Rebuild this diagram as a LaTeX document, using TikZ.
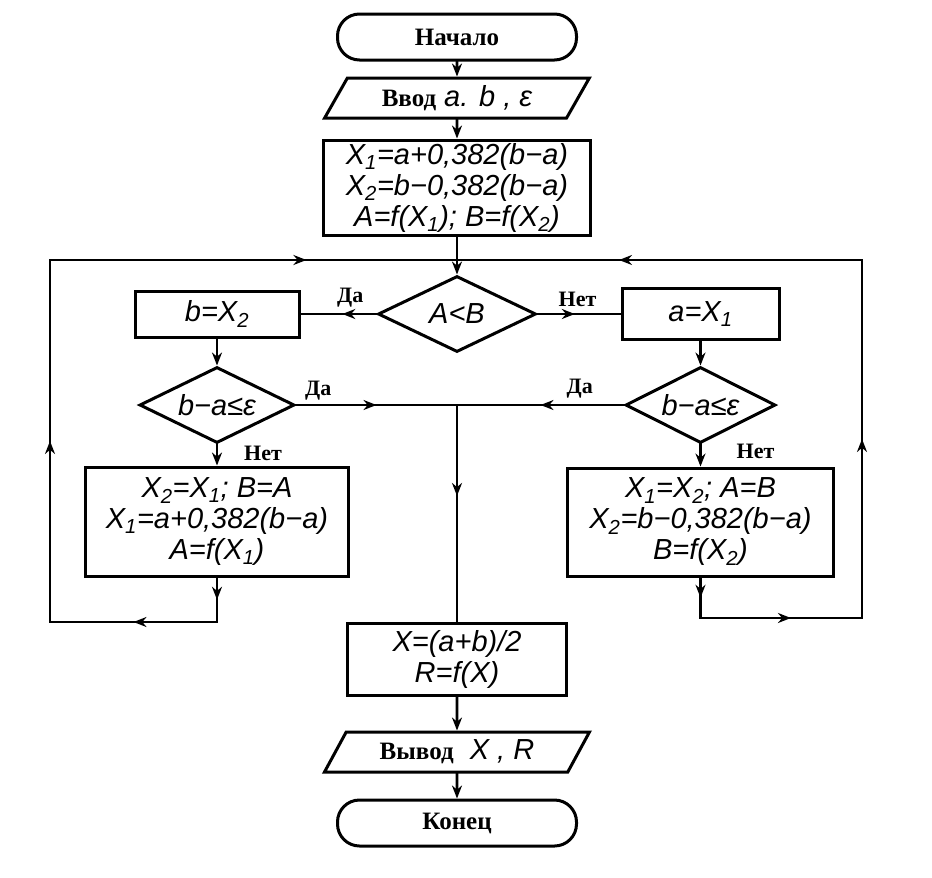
\documentclass[tikz,border=0pt]{standalone}
\usepackage{fontspec}
\setmainfont{Liberation Serif}
\newfontfamily\formfont{Liberation Sans}
\usepackage{tikz}
\usetikzlibrary{shapes.geometric, arrows.meta, positioning, decorations.markings}
\newcommand\labtxt{\normalfont\bfseries\fontsize{25}{28}\selectfont}
\newcommand\frmtxt{\formfont\itshape\fontsize{29}{31}\selectfont}
\newcommand\ix[1]{\textsubscript{#1}}
\tikzset{
  term/.style  ={rectangle, rounded corners=22pt, draw, line width=3pt,
                 minimum width=239pt, minimum height=46pt, font=\labtxt},
  io/.style    ={trapezium, trapezium left angle=63, trapezium right angle=117,
                 trapezium stretches=true, draw, line width=3pt,
                 minimum width=265pt, minimum height=40pt, font=\frmtxt},
  proc/.style  ={rectangle, draw, line width=3pt, align=center,
                 inner sep=1pt, font=\frmtxt},
  dec/.style   ={diamond, aspect=2, draw, line width=3pt, inner sep=0pt,
                 minimum width=158pt, minimum height=76pt, font=\frmtxt},
  lbl/.style   ={font=\normalfont\bfseries\fontsize{22}{24}\selectfont, inner sep=1pt},
  flow/.style  ={line width=2.6pt, line cap=rect},
  flowarr/.style={flow, -{Stealth[length=13pt, width=10pt]}},
  midarr/.style={flow, postaction={decorate}, decoration={markings,
                 mark=at position #1 with {\arrow{Stealth[length=13pt, width=10pt]}}}},
  midarr/.default=0.5,
}
\begin{document}
\begin{tikzpicture}[x=1pt, y=1pt]
  \useasboundingbox (0,0) rectangle (932,-878);

  % main column
  \node[term] (start) at (457,-37) {Начало};
  \node[io, below=15pt of start] (inp) {{\labtxt Ввод} a. b , ε};
  \node[proc, below=19pt of inp, minimum width=267pt, minimum height=95pt] (init)
    {X\ix{1}=a+0,382(b−a)\\X\ix{2}=b−0,382(b−a)\\A=f(X\ix{1}); B=f(X\ix{2})};
  \node[dec, below=38pt of init] (cmp) {A<B};

  % left branch
  \node[proc, left=76pt of cmp, minimum width=164pt, minimum height=46pt] (setb) {b=X\ix{2}};
  \node[dec, below=27pt of setb, minimum width=155pt] (chkl) {b−a≤ε};
  \node[proc, below=21pt of chkl, minimum width=263pt, minimum height=109pt] (stepl)
    {X\ix{2}=X\ix{1}; B=A\\X\ix{1}=a+0,382(b−a)\\A=f(X\ix{1})};

  % right branch
  \node[proc, right=83pt of cmp, minimum width=157pt, minimum height=51pt] (seta) {a=X\ix{1}};
  \node[dec, minimum width=150pt] (chkr) at (seta |- chkl) {b−a≤ε};
  \node[proc, below=22pt of chkr, minimum width=266pt, minimum height=108pt] (stepr)
    {X\ix{1}=X\ix{2}; A=B\\X\ix{2}=b−0,382(b−a)\\B=f(X\ix{2})};

  % result
  \node[proc, minimum width=219pt, minimum height=72pt] (res) at (457,-659)
    {X=(a+b)/2\\R=f(X)};
  \node[io, below=34pt of res] (outp) {{\labtxt Вывод}\ \ X , R};
  \node[term, below=25pt of outp] (stop) {Конец};

  % junctions
  \coordinate (jt) at (init.south |- 0,-260);
  \coordinate (jm) at (cmp.south |- chkl.east);
  \coordinate (lb) at (stepl.south |- 0,-622);
  \coordinate (lc) at (50,-622);
  \coordinate (lu) at (50,-260);
  \coordinate (rb) at (stepr.south |- 0,-618);
  \coordinate (rc) at (862,-618);
  \coordinate (ru) at (862,-260);

  % labels
  \node[lbl, above left=6pt and 12pt of cmp.west] (yes1) {Да};
  \node[lbl, above right=6pt and 20pt of cmp.east] (no1) {Нет};
  \node[lbl, above right=4pt and 8pt of chkl.east] (yes2) {Да};
  \node[lbl, above left=6pt and 30pt of chkr.west] (yes3) {Да};
  \node[lbl, right=26pt of chkl.south, yshift=-9pt] (no2) {Нет};
  \node[lbl, right=35pt of chkr.south, yshift=-7pt] (no3) {Нет};

  % connectors
  \draw[flowarr] (start) -- (inp);
  \draw[flowarr] (inp) -- (init);
  \draw[flow] (init) -- (jt);
  \draw[flowarr] (jt) -- (cmp);
  \draw[midarr=0.45] (cmp.west) -- (setb.east);
  \draw[midarr=0.45] (cmp.east) -- (seta.west);
  \draw[flowarr] (setb) -- (chkl);
  \draw[flowarr] (seta) -- (chkr);
  \draw[flowarr] (chkl) -- (stepl);
  \draw[flowarr] (chkr) -- (stepr);
  \draw[midarr] (chkl.east) -- (jm);
  \draw[midarr] (chkr.west) -- (jm);
  \draw[midarr=0.42] (jm) -- (res);
  \draw[flowarr] (res) -- (outp);
  \draw[flowarr] (outp) -- (stop);

  % loops back
  \draw[midarr] (stepl) -- (lb);
  \draw[midarr] (lb) -- (lc);
  \draw[midarr] (lc) -- (lu);
  \draw[midarr=0.63] (lu) -- (jt);
  \draw[midarr] (stepr) -- (rb);
  \draw[midarr=0.56] (rb) -- (rc);
  \draw[midarr] (rc) -- (ru);
  \draw[midarr=0.6] (ru) -- (jt);

\end{tikzpicture}
\end{document}
